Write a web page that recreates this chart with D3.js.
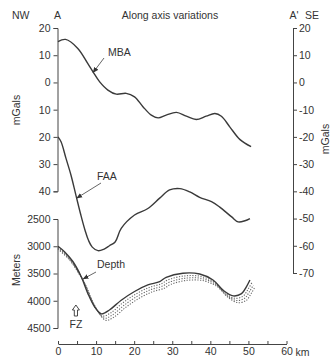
<!DOCTYPE html>
<html><head><meta charset="utf-8">
<script src="https://cdn.jsdelivr.net/npm/d3@7"></script>
<style>
body{margin:0;background:#fff;}
svg text{font-family:"Liberation Sans",Arial,sans-serif;fill:#333;}
</style></head><body>
<svg id="c" width="330" height="358"></svg>
<script>
// ---- data ----
const mbaKm  = [0,2,5.2,7.8,9.2,10.9,13.1,15.3,17.9,20.1,22.3,24.5,26.3,28.4,31.1,33.7,36.3,38.9,41.2,42.9,45.1,47.8,50.7];
const mbaVal = [15,15.8,12.5,7,3.9,0.3,-2.8,-4.3,-4,-5.3,-8.9,-12,-13,-12,-11,-12.4,-13.6,-12.4,-11.4,-12.4,-16.3,-21,-23.6];
const faaKm  = [0,0.8,2.1,3.4,4.7,6,7.1,8,9,10.5,12,13.5,15,16.6,20.1,23.6,26.7,29.3,32,34.6,37.2,40.3,42.4,45.6,47.3,49.1,50.4];
const faaVal = [-20,-21.8,-27.9,-34,-41.4,-48.7,-54.3,-58,-60.5,-61.8,-61.3,-60,-58.6,-53.6,-48.7,-46.3,-42.5,-39.5,-39,-40.2,-42.2,-43.8,-45.7,-49.4,-51.2,-50.8,-50];
const depKm  = [0,1.7,3.9,6.1,7.8,9.6,11.4,13.5,16.6,20.1,23.6,26.7,28.4,32.8,37.2,40.7,43.4,46,48.2,49.5,50.4];
const depVal = [3000,3100,3280,3560,3860,4110,4240,4170,3990,3830,3710,3650,3570,3495,3510,3620,3810,3910,3870,3740,3620];
const dot1Km = [0,2.1,4.3,6.5,8.2,10,11.8,13.9,17,20.5,24,27.1,28.8,33.2,37.6,41.1,43.8,46.4,48.6,49.9,50.9];
const dot1Val= [3015,3150,3340,3610,3900,4150,4280,4220,4040,3875,3755,3690,3620,3545,3555,3665,3855,3955,3915,3790,3670];
const dot2Km = [0,2.5,4.7,6.9,8.6,10.4,12.2,14.3,17.4,20.9,24.4,27.5,29.2,33.6,38,41.5,44.2,46.8,49,50.3,51.3];
const dot2Val= [3035,3195,3400,3665,3950,4190,4320,4260,4080,3915,3795,3730,3660,3585,3595,3705,3895,3995,3955,3830,3710];
const dot3Km = [0,2.9,5.1,7.3,9,10.8,12.6,14.7,17.8,21.3,24.8,27.9,29.6,34,38.4,41.9,44.6,47.2,49.4,50.7,51.7];
const dot3Val= [3055,3240,3460,3720,3995,4230,4360,4300,4120,3955,3835,3770,3700,3625,3635,3745,3935,4035,3995,3870,3750];
const xTicks = [0,5,10,15,20,25,30,35,40,45,50,55,60];
const mgalLeftTicks = [20,10,0,-10,-20,-30,-40];
const mgalRightTicks = [20,10,0,-10,-20,-30,-40,-50,-60,-70];
const depthTicks = [2500,3000,3500,4000,4500];

// ---- scales ----
const svg = d3.select("#c");
const x = d3.scaleLinear().domain([0,60]).range([58,286.5]);
const yG = d3.scaleLinear().domain([20,-70]).range([28,273]);
const yGL = d3.scaleLinear().domain([20,-40]).range([yG(20),yG(-40)]);
const yD = d3.scaleLinear().domain([2500,4500]).range([219,328]);
const axisX = 57.5, axisR = 293;
const FS = "10.5px";

function styleAxis(g){
  g.selectAll("path,line").attr("stroke","#444").attr("stroke-width",1);
  g.selectAll("text").attr("font-size",FS).attr("fill","#333")
   .attr("font-family","Liberation Sans, Arial, sans-serif");
}

// axes
svg.append("g").attr("transform",`translate(${axisX},0)`)
  .call(d3.axisLeft(yGL).tickValues(mgalLeftTicks).tickFormat(d=>String(Math.abs(d))).tickSize(4).tickPadding(3))
  .call(styleAxis);
svg.append("g").attr("transform",`translate(${axisX},0)`)
  .call(d3.axisLeft(yD).tickValues(depthTicks).tickFormat(d=>String(d)).tickSize(4).tickPadding(3))
  .call(styleAxis);
svg.append("g").attr("transform",`translate(${axisR},0)`)
  .call(d3.axisRight(yG).tickValues(mgalRightTicks).tickFormat(d=>String(d)).tickSize(4).tickPadding(2))
  .call(styleAxis);
svg.append("g").attr("transform",`translate(0,344)`)
  .call(d3.axisBottom(x).tickValues(xTicks).tickFormat(d=>d%10===0?String(d):"").tickSize(-3).tickSizeOuter(0).tickPadding(4))
  .call(styleAxis);
svg.append("text").attr("x",x(60)+9).attr("y",358-2).attr("font-size",FS).text("km");

// titles
svg.append("text").attr("x",170).attr("y",19).attr("text-anchor","middle").attr("font-size",FS).text("Along axis variations");
svg.append("text").attr("x",12).attr("y",19).attr("font-size",FS).text("NW");
svg.append("text").attr("x",axisX).attr("y",19).attr("text-anchor","middle").attr("font-size",FS).text("A");
svg.append("text").attr("x",axisR+1).attr("y",19).attr("text-anchor","middle").attr("font-size",FS).text("A'");
svg.append("text").attr("x",305).attr("y",19).attr("font-size",FS).text("SE");
svg.append("text").attr("transform","translate(20,110) rotate(-90)").attr("text-anchor","middle").attr("font-size",FS).text("mGals");
svg.append("text").attr("transform","translate(329,139) rotate(-90)").attr("text-anchor","middle").attr("font-size",FS).text("mGals");
svg.append("text").attr("transform","translate(20,270) rotate(-90)").attr("text-anchor","middle").attr("font-size",FS).text("Meters");

// lines
const lineG = d3.line().x(d=>x(d[0])).y(d=>yG(d[1])).curve(d3.curveCatmullRom.alpha(0.5));
const lineD = d3.line().x(d=>x(d[0])).y(d=>yD(d[1])).curve(d3.curveCatmullRom.alpha(0.5));
const zip = (a,b)=>a.map((v,i)=>[v,b[i]]);

[[dot1Km,dot1Val],[dot2Km,dot2Val],[dot3Km,dot3Val]].forEach(([k,v])=>{
  svg.append("path").attr("d",lineD(zip(k,v))).attr("fill","none")
    .attr("stroke","#666").attr("stroke-width",1.1).attr("stroke-dasharray","1.2,1.5");
});
svg.append("path").attr("d",lineD(zip(depKm,depVal))).attr("fill","none").attr("stroke","#3a3a3a").attr("stroke-width",1.4);
svg.append("path").attr("d",lineG(zip(mbaKm,mbaVal))).attr("fill","none").attr("stroke","#3a3a3a").attr("stroke-width",1.4);
svg.append("path").attr("d",lineG(zip(faaKm,faaVal))).attr("fill","none").attr("stroke","#3a3a3a").attr("stroke-width",1.4);

// arrow markers
svg.append("defs").append("marker").attr("id","ah").attr("viewBox","0 0 10 10")
  .attr("refX",9).attr("refY",5).attr("markerWidth",6).attr("markerHeight",6)
  .attr("markerUnits","userSpaceOnUse").attr("orient","auto")
  .append("path").attr("d","M0,1 L10,5 L0,9 Z").attr("fill","#333");

function label(txt,tx,ty,x1,y1,x2,y2){
  svg.append("text").attr("x",tx).attr("y",ty).attr("font-size",FS).text(txt);
  svg.append("line").attr("x1",x1).attr("y1",y1).attr("x2",x2).attr("y2",y2)
    .attr("stroke","#555").attr("stroke-width",0.9).attr("marker-end","url(#ah)");
}
label("MBA",108,56,104,58,x(9.2),yG(3.6));
label("FAA",97,180,101,183,x(4.9),yG(-42.5));
label("Depth",97,268,96,272,x(6.6),yD(3600));

// FZ marker
const fzKm = 4.7;
const fx = x(fzKm);
svg.append("path").attr("d",`M${fx-3.5},${310} L${fx},${305} L${fx+3.5},${310} L${fx+1.6},${310} L${fx+1.6},${316} L${fx-1.6},${316} L${fx-1.6},${310} Z`)
  .attr("fill","none").attr("stroke","#333").attr("stroke-width",0.9);
svg.append("text").attr("x",fx).attr("y",328).attr("text-anchor","middle").attr("font-size",FS).text("FZ");
</script></body></html>
